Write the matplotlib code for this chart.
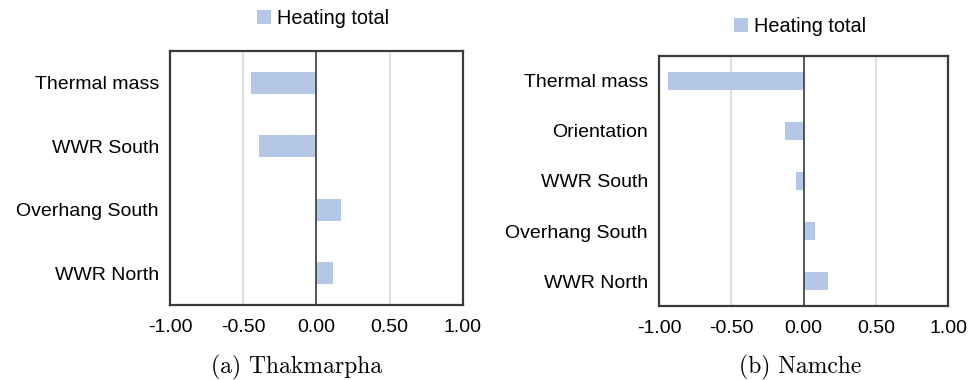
import matplotlib
matplotlib.use('Agg')
import matplotlib.pyplot as plt

# Sensitivity of heating total per design parameter
cats_a = ['Thermal mass', 'WWR South', 'Overhang South', 'WWR North']
vals_a = [-0.45, -0.39, 0.17, 0.11]

cats_b = ['Thermal mass', 'Orientation', 'WWR South', 'Overhang South', 'WWR North']
vals_b = [-0.94, -0.13, -0.05, 0.08, 0.17]

xticks = [-1.0, -0.5, 0.0, 0.5, 1.0]
series_name = 'Heating total'

bar_color = '#b4c7e7'
spine_color = '#3a3a3a'

plt.rcParams['font.family'] = ['Liberation Sans', 'DejaVu Sans']

fig = plt.figure(figsize=(9.68, 3.8), dpi=100)
ax_a = fig.add_axes([0.1756, 0.1974, 0.3027, 0.6684])
ax_b = fig.add_axes([0.6808, 0.1947, 0.2986, 0.658])


def draw(ax, cats, vals):
    y = list(range(len(cats)))
    ax.barh(y, vals, height=0.35, color=bar_color, label=series_name, zorder=2)
    ax.set_xlim(-1, 1)
    ax.set_ylim(len(cats) - 0.5, -0.5)
    ax.set_yticks(y)
    ax.set_yticklabels(cats, fontsize=14)
    ax.set_xticks(xticks)
    ax.set_xticklabels([f'{v:.2f}' for v in xticks], fontsize=14)
    ax.tick_params(length=0, pad=10)
    ax.tick_params(axis='y', pad=8)
    for v in xticks:
        if v not in (-1.0, 0.0, 1.0):
            ax.axvline(v, color='#d9d9d9', lw=1.2, zorder=1)
    ax.axvline(0, color=spine_color, lw=1.2, zorder=3)
    for s in ax.spines.values():
        s.set_color(spine_color)
        s.set_linewidth(1.6)


draw(ax_a, cats_a, vals_a)
draw(ax_b, cats_b, vals_b)

leg_kw = dict(loc='center', bbox_transform=fig.transFigure, frameon=False,
              fontsize=14.3, handlelength=0.7, handleheight=0.7, handletextpad=0.3)
ax_a.legend(bbox_to_anchor=(323 / 968, 1 - 18 / 380), **leg_kw)
ax_b.legend(bbox_to_anchor=(800 / 968, 1 - 26 / 380), **leg_kw)

fig.text(297 / 968, 1 - 367 / 380, '(a) Thakmarpha', family='cmr10',
         fontsize=17, ha='center', va='center')
fig.text(800 / 968, 1 - 367 / 380, '(b) Namche', family='cmr10',
         fontsize=17, ha='center', va='center')

fig.savefig('out.png', dpi=100, facecolor='white')
